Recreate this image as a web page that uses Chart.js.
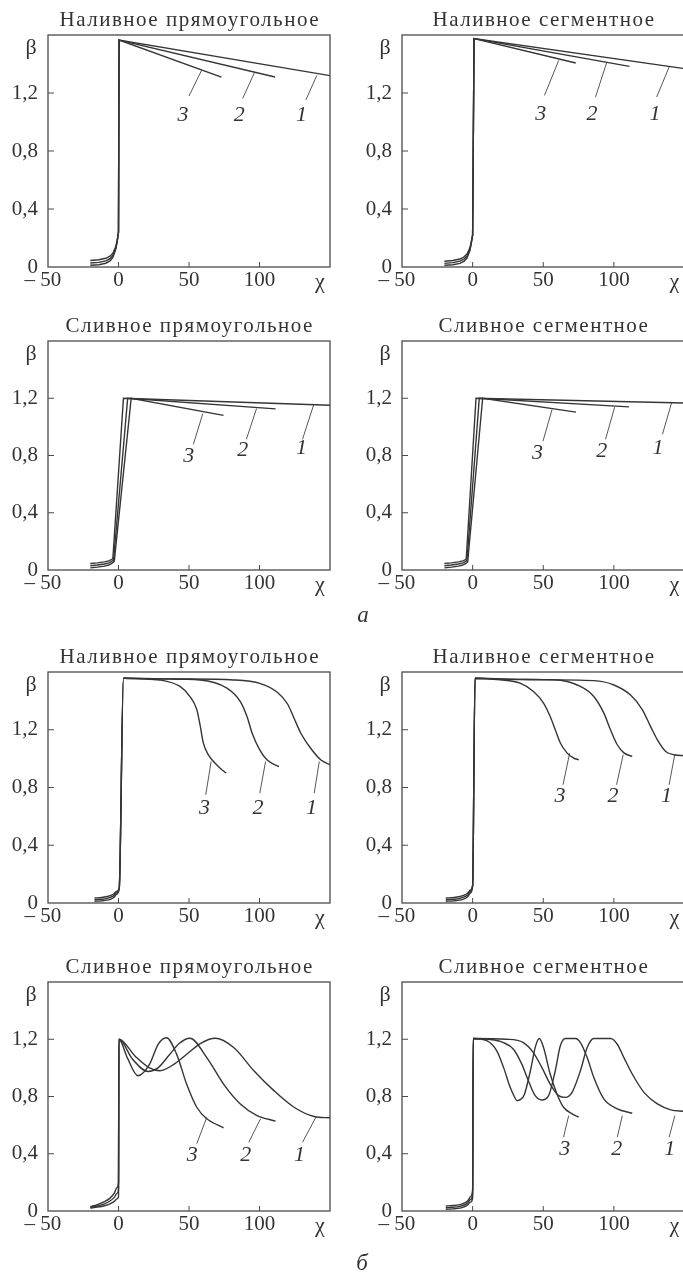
<!DOCTYPE html>
<html lang="ru"><head><meta charset="utf-8">
<title>β(χ)</title>
<script src="https://cdn.jsdelivr.net/npm/chart.js@4.4.1/dist/chart.umd.min.js"></script>
<style>
html,body{margin:0;padding:0;background:#fff;}
body{width:683px;height:1273px;overflow:hidden;position:relative;}
.p{position:absolute;}
.fig{position:absolute;font:italic 23px "Liberation Serif","Times New Roman",serif;color:#333;transform:translate(-50%,-50%);line-height:1;}
</style></head><body>
<div class="p" style="left:0;top:0;width:341px;height:300px"><canvas id="c0"></canvas></div>
<div class="p" style="left:354px;top:0;width:333px;height:300px"><canvas id="c1"></canvas></div>
<div class="p" style="left:0;top:306px;width:341px;height:297px"><canvas id="c2"></canvas></div>
<div class="p" style="left:354px;top:306px;width:333px;height:297px"><canvas id="c3"></canvas></div>
<div class="p" style="left:0;top:637px;width:341px;height:299px"><canvas id="c4"></canvas></div>
<div class="p" style="left:354px;top:637px;width:333px;height:299px"><canvas id="c5"></canvas></div>
<div class="p" style="left:0;top:947px;width:341px;height:297px"><canvas id="c6"></canvas></div>
<div class="p" style="left:354px;top:947px;width:333px;height:297px"><canvas id="c7"></canvas></div>
<div class="fig" style="left:363px;top:614px">а</div>
<div class="fig" style="left:362px;top:1262px">б</div>
<script>
// ---------- texts ----------
const titles = ['Наливное прямоугольное', 'Наливное сегментное', 'Сливное прямоугольное', 'Сливное сегментное'];
const curveNames = ['1', '2', '3'];
const xTickLabels = ['– 50\u2007', '0', '50', '100', ''];
const yTickLabels = ['0', '0,4', '0,8', '1,2', ''];

// ---------- а: Наливное прямоугольное ----------
const a1X = [
  [-20, -14, -9, -6, -4, -2, -1, 0, 0.4, 150],
  [-20, -14, -9, -6, -4, -2, -1, 0, 0.4, 111],
  [-20, -14, -9, -6, -4, -2, -1, 0, 0.4, 73]];
const a1Y = [
  [0.045, 0.05, 0.06, 0.075, 0.095, 0.14, 0.18, 0.24, 1.565, 1.32],
  [0.028, 0.032, 0.042, 0.058, 0.08, 0.13, 0.175, 0.24, 1.565, 1.31],
  [0.012, 0.016, 0.026, 0.042, 0.066, 0.12, 0.17, 0.24, 1.565, 1.31]];
const a1Lead = [[132.9, 1.152, 140.7, 1.322], [88.1, 1.163, 96.4, 1.34], [50, 1.179, 58.8, 1.354]];
const a1Lab = [[129.8, 1.05], [85.7, 1.05], [45.7, 1.05]];

// ---------- а: Наливное сегментное ----------
const a2X = [
  [-20, -14, -9, -6, -4, -2, -1, 0, 1, 150],
  [-20, -14, -9, -6, -4, -2, -1, 0, 1, 111],
  [-20, -14, -9, -6, -4, -2, -1, 0, 1, 73]];
const a2Y = [
  [0.04, 0.045, 0.055, 0.07, 0.09, 0.13, 0.17, 0.22, 1.575, 1.368],
  [0.025, 0.03, 0.04, 0.055, 0.075, 0.12, 0.165, 0.22, 1.575, 1.384],
  [0.012, 0.016, 0.025, 0.04, 0.062, 0.11, 0.16, 0.22, 1.575, 1.407]];
const a2Lead = [[130.3, 1.172, 139.1, 1.379], [87, 1.172, 94.8, 1.407], [50.9, 1.184, 60.9, 1.425]];
const a2Lab = [[129.1, 1.057], [84.6, 1.057], [48.3, 1.057]];

// ---------- а: Сливное прямоугольное ----------
const a3X = [
  [-20, -15, -10, -7, -5, -4, 3.5, 150],
  [-20, -15, -10, -7, -5, -3.5, 6.5, 111.4],
  [-20, -15, -10, -7, -5, -3, 9, 74.5]];
const a3Y = [
  [0.045, 0.05, 0.057, 0.064, 0.072, 0.08, 1.2, 1.151],
  [0.03, 0.035, 0.042, 0.05, 0.058, 0.07, 1.2, 1.126],
  [0.015, 0.02, 0.027, 0.035, 0.044, 0.06, 1.2, 1.08]];
const a3Lead = [[130.5, 0.913, 138.3, 1.151], [90.7, 0.913, 97.9, 1.128], [53.1, 0.878, 59.8, 1.093]];
const a3Lab = [[129.8, 0.853], [88.1, 0.839], [49.8, 0.797]];

// ---------- а: Сливное сегментное ----------
const a4X = [
  [-20, -15, -10, -7, -5, -4.5, 2.4, 150],
  [-20, -15, -10, -7, -5, -4, 4.7, 110.7],
  [-20, -15, -10, -7, -5, -3.5, 7.1, 73.2]];
const a4Y = [
  [0.045, 0.05, 0.057, 0.064, 0.072, 0.08, 1.2, 1.167],
  [0.03, 0.035, 0.042, 0.05, 0.058, 0.068, 1.2, 1.14],
  [0.015, 0.02, 0.027, 0.035, 0.044, 0.056, 1.2, 1.103]];
const a4Lead = [[134.4, 0.948, 140.8, 1.167], [94.1, 0.913, 100.5, 1.137], [49.8, 0.90, 56.2, 1.12]];
const a4Lab = [[131.3, 0.853], [91.5, 0.832], [46, 0.814]];

// ---------- б: Наливное прямоугольное ----------
const b1X = [
  [-17, -12, -8, -5, -3, -1.5, 0.5, 3.5, 40, 81.7, 100.7, 112.6, 119.8, 124.5, 129.3, 136.4, 143.6, 150],
  [-17, -12, -8, -5, -3, -1.5, 0.5, 3.5, 30, 57.9, 76.9, 86.4, 91.2, 94.8, 99.5, 105.5, 113.8],
  [-17, -12, -8, -5, -3, -1.5, 0.5, 3.5, 15, 29.3, 43.6, 50.7, 55.5, 57.9, 60.2, 63.8, 67.4, 72.1, 76.4]];
const b1Y = [
  [0.035, 0.038, 0.045, 0.055, 0.066, 0.08, 0.1, 1.557, 1.552, 1.545, 1.52, 1.46, 1.38, 1.28, 1.176, 1.07, 0.99, 0.957],
  [0.023, 0.026, 0.032, 0.042, 0.054, 0.07, 0.1, 1.557, 1.552, 1.545, 1.488, 1.395, 1.29, 1.176, 1.073, 0.99, 0.945],
  [0.012, 0.015, 0.02, 0.029, 0.042, 0.06, 0.1, 1.557, 1.553, 1.545, 1.50, 1.43, 1.34, 1.23, 1.107, 1.026, 0.98, 0.934, 0.90]];
const b1Lead = [[138.8, 0.761, 142.4, 0.98], [100.2, 0.761, 104.3, 0.98], [61.9, 0.75, 65.7, 0.98]];
const b1Lab = [[136.9, 0.657], [99, 0.657], [61, 0.657]];

// ---------- б: Наливное сегментное ----------
const b2X = [
  [-19, -13, -9, -6, -3.5, -1.5, 0, 1.7, 40, 85.8, 100, 111.8, 120.1, 126.1, 130.8, 136.7, 142.7, 150],
  [-19, -13, -9, -6, -3.5, -1.5, 0, 1.7, 30, 57.3, 76.3, 85.8, 92.9, 97.6, 102.4, 107.1, 113],
  [-19, -13, -9, -6, -3.5, -1.5, 0, 1.7, 19.4, 33.6, 43.1, 50.2, 55, 58.5, 62.1, 66.8, 71.6, 75.1]];
const b2Y = [
  [0.035, 0.038, 0.045, 0.055, 0.068, 0.09, 0.12, 1.557, 1.548, 1.54, 1.51, 1.44, 1.34, 1.22, 1.13, 1.05, 1.027, 1.02],
  [0.023, 0.026, 0.032, 0.042, 0.056, 0.08, 0.12, 1.557, 1.548, 1.546, 1.50, 1.43, 1.315, 1.20, 1.096, 1.04, 1.015],
  [0.012, 0.015, 0.02, 0.029, 0.044, 0.07, 0.12, 1.557, 1.546, 1.523, 1.465, 1.385, 1.29, 1.20, 1.108, 1.04, 1.004, 0.992]];
const b2Lead = [[139.1, 0.819, 143.1, 1.027], [101.9, 0.819, 106.6, 1.027], [64, 0.819, 68.7, 1.038]];
const b2Lab = [[137.2, 0.738], [99.3, 0.738], [61.8, 0.738]];

// ---------- б: Сливное прямоугольное ----------
const b3X = [
  [-20, -15, -10, -6, -3, -1, 0, 0.3, 12, 22, 29.3, 40, 49, 58, 68.6, 81.7, 96, 110.2, 124.5, 138.8, 150],
  [-20, -15, -10, -6, -3, -1, 0, 0.3, 10, 20.9, 28, 36, 43, 50.7, 62.6, 74.5, 86.4, 98.3, 111.4],
  [-20, -15, -10, -6, -3, -1, 0, 0.3, 6.2, 13.8, 22.1, 28.1, 34, 41.2, 48.3, 55.5, 62.6, 74.5]];
const b3Y = [
  [0.03, 0.045, 0.065, 0.09, 0.125, 0.165, 0.2, 1.2, 1.08, 1.0, 0.98, 1.03, 1.1, 1.17, 1.207, 1.142, 0.98, 0.841, 0.725, 0.66, 0.651],
  [0.025, 0.035, 0.05, 0.07, 0.095, 0.125, 0.15, 1.2, 1.06, 0.975, 1.0, 1.09, 1.17, 1.207, 1.072, 0.887, 0.748, 0.667, 0.628],
  [0.02, 0.027, 0.037, 0.05, 0.067, 0.085, 0.1, 1.2, 1.072, 0.945, 1.026, 1.165, 1.211, 1.096, 0.887, 0.725, 0.644, 0.581]];
const b3Lead = [[130.5, 0.48, 140, 0.655], [92.4, 0.48, 100.7, 0.644], [55.5, 0.47, 62.6, 0.655]];
const b3Lab = [[128.3, 0.389], [90.3, 0.389], [52.3, 0.389]];

// ---------- б: Сливное сегментное ----------
const b4X = [
  [-19, -14, -9, -6, -3.5, -1.5, 0, 0.4, 24, 35.9, 43, 49, 54.9, 60.9, 65.6, 70.4, 76.3, 81.1, 85.8, 97.7, 102.4, 107.1, 113, 121.3, 130.8, 140.3, 149.8],
  [-19, -14, -9, -6, -3.5, -1.5, 0, 0.4, 11, 21.8, 28.9, 34.8, 39.5, 44.3, 49, 53.8, 58.5, 62.1, 65.6, 72.7, 76.3, 81.1, 85.8, 92.9, 102.4, 113],
  [-19, -14, -9, -6, -3.5, -1.5, 0, 0.4, 10, 17, 22, 26.6, 29.5, 31.5, 34, 36.5, 40.9, 44.5, 47.2, 50.2, 54.9, 59.7, 64.4, 70.4, 75.1]];
const b4Y = [
  [0.035, 0.038, 0.045, 0.055, 0.07, 0.1, 0.15, 1.205, 1.2, 1.177, 1.107, 1.003, 0.887, 0.806, 0.794, 0.829, 0.98, 1.142, 1.205, 1.205, 1.165, 1.072, 0.957, 0.829, 0.748, 0.707, 0.697],
  [0.023, 0.026, 0.032, 0.042, 0.056, 0.08, 0.12, 1.205, 1.2, 1.177, 1.13, 1.026, 0.91, 0.806, 0.776, 0.806, 0.98, 1.154, 1.205, 1.205, 1.177, 1.072, 0.933, 0.783, 0.714, 0.683],
  [0.012, 0.015, 0.02, 0.029, 0.042, 0.062, 0.09, 1.205, 1.19, 1.12, 1.0, 0.864, 0.8, 0.771, 0.78, 0.81, 0.98, 1.15, 1.205, 1.142, 0.957, 0.818, 0.725, 0.679, 0.656]];
const b4Lead = [[139.1, 0.516, 143.2, 0.667], [102.4, 0.516, 106, 0.667], [64.4, 0.516, 68, 0.667]];
const b4Lab = [[139.6, 0.435], [102.1, 0.435], [65.2, 0.435]];

// ---------- drawing ----------
const FONT = '"Liberation Serif", "Times New Roman", serif';
const INK = '#333';
const LINE = '#353535';

const panels = [
  { el: 'c0', title: titles[0], X: a1X, Y: a1Y, lead: a1Lead, lab: a1Lab, smooth: false, right: false },
  { el: 'c1', title: titles[1], X: a2X, Y: a2Y, lead: a2Lead, lab: a2Lab, smooth: false, right: true },
  { el: 'c2', title: titles[2], X: a3X, Y: a3Y, lead: a3Lead, lab: a3Lab, smooth: false, right: false },
  { el: 'c3', title: titles[3], X: a4X, Y: a4Y, lead: a4Lead, lab: a4Lab, smooth: false, right: true },
  { el: 'c4', title: titles[0], X: b1X, Y: b1Y, lead: b1Lead, lab: b1Lab, smooth: true, right: false },
  { el: 'c5', title: titles[1], X: b2X, Y: b2Y, lead: b2Lead, lab: b2Lab, smooth: true, right: true },
  { el: 'c6', title: titles[2], X: b3X, Y: b3Y, lead: b3Lead, lab: b3Lab, smooth: true, right: false },
  { el: 'c7', title: titles[3], X: b4X, Y: b4Y, lead: b4Lead, lab: b4Lab, smooth: true, right: true }
];

function pts(xs, ys) { return xs.map((x, i) => ({ x: x, y: ys[i] })); }

function decor(title, lab) {
  return {
    id: 'decor',
    afterDraw(chart) {
      const ctx = chart.ctx, a = chart.chartArea, sx = chart.scales.x, sy = chart.scales.y;
      ctx.save();
      ctx.strokeStyle = '#4a4a4a';
      ctx.lineWidth = 1.3;
      ctx.strokeRect(a.left, a.top, a.right - a.left, a.bottom - a.top);
      ctx.lineWidth = 1;
      ctx.beginPath();
      sx.ticks.forEach(t => {
        if (t.value > sx.min && t.value < sx.max) {
          const px = sx.getPixelForValue(t.value);
          ctx.moveTo(px, a.bottom); ctx.lineTo(px, a.bottom - 5);
        }
      });
      sy.ticks.forEach(t => {
        if (t.value > sy.min && t.value < sy.max) {
          const py = sy.getPixelForValue(t.value);
          ctx.moveTo(a.left, py); ctx.lineTo(a.left + 6, py);
        }
      });
      ctx.stroke();
      ctx.fillStyle = INK;
      ctx.textAlign = 'center';
      ctx.textBaseline = 'middle';
      // panel title, centred over the plot area
      ctx.font = '21px ' + FONT;
      if ('letterSpacing' in ctx) ctx.letterSpacing = '1.5px';
      ctx.fillText(title, (a.left + a.right) / 2 + 0.75, a.top - 15);
      if ('letterSpacing' in ctx) ctx.letterSpacing = '0px';
      ctx.font = '22px ' + FONT;
      ctx.fillText('β', a.left - 17, a.top + 13);
      ctx.fillText('χ', a.right - 10, a.bottom + 15);
      ctx.font = 'italic 22px ' + FONT;
      lab.forEach((p, i) => ctx.fillText(curveNames[i], sx.getPixelForValue(p[0]), sy.getPixelForValue(p[1])));
      ctx.restore();
    }
  };
}

panels.forEach(p => {
  const datasets = p.X.map((xs, i) => ({
    data: pts(xs, p.Y[i]),
    showLine: true, borderColor: LINE, borderWidth: 1.4, pointRadius: 0, fill: false,
    tension: 0, cubicInterpolationMode: p.smooth ? 'monotone' : 'default'
  }));
  p.lead.forEach(l => datasets.push({
    data: [{ x: l[0], y: l[1] }, { x: l[2], y: l[3] }],
    showLine: true, borderColor: '#444', borderWidth: 0.9, pointRadius: 0, fill: false, tension: 0
  }));
  new Chart(document.getElementById(p.el), {
    type: 'scatter',
    data: { datasets: datasets },
    options: {
      responsive: true, maintainAspectRatio: false, animation: false, events: [],
      layout: { padding: { left: 0, right: p.right ? 2.5 : 11, top: 35, bottom: 0 } },
      plugins: {
        legend: { display: false },
        tooltip: { enabled: false },
        title: { display: false }
      },
      scales: {
        x: {
          type: 'linear', min: -50, max: 150,
          grid: { display: false, drawTicks: false }, border: { display: false },
          ticks: { stepSize: 50, autoSkip: false, maxRotation: 0, padding: 1, color: INK,
                   font: { family: FONT, size: 21 }, callback: (v, i) => xTickLabels[i] },
          afterFit: s => { s.height = 33; }
        },
        y: {
          type: 'linear', min: 0, max: 1.6,
          grid: { display: false, drawTicks: false }, border: { display: false },
          ticks: { stepSize: 0.4, autoSkip: false, padding: 10, color: INK,
                   font: { family: FONT, size: 21 }, callback: (v, i) => yTickLabels[i] },
          afterFit: s => { s.width = 48; }
        }
      }
    },
    plugins: [decor(p.title, p.lab)]
  });
});
</script>
</body></html>
